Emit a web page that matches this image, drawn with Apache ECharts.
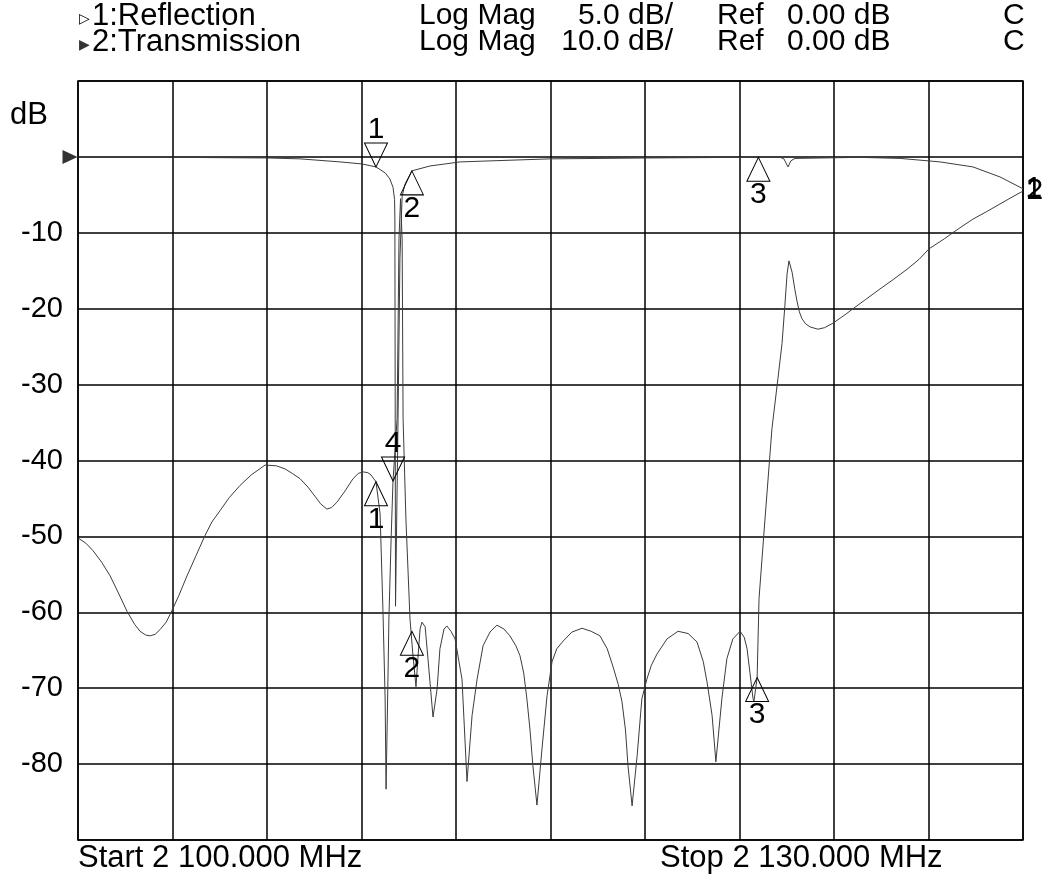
<!DOCTYPE html>
<html>
<head>
<meta charset="utf-8">
<script src="https://cdn.jsdelivr.net/npm/echarts@6/dist/echarts.min.js"></script>
<style>html,body{margin:0;padding:0;background:#fff}#c{width:1045px;height:882px}</style>
</head>
<body>
<div id="c"></div>
<script>
// Transmission trace (trace 2), dB, 10 dB/div
const transFreq = [100.00,100.25,100.48,100.75,101.02,101.30,101.56,101.80,101.97,102.15,102.29,102.45,102.60,102.80,102.98,103.20,103.46,103.75,104.03,104.25,104.51,104.80,105.14,105.50,105.94,106.30,106.57,106.80,107.05,107.30,107.52,107.70,107.90,108.05,108.22,108.48,108.73,108.90,109.05,109.20,109.30,109.46,109.59,109.68,109.75,109.78,109.84,109.87,109.94,110.00,110.13,110.19,110.24,110.29,110.32,110.41,110.54,110.63,110.73,110.79,110.86,110.92,111.02,111.11,111.27,111.40,111.49,111.62,111.71,111.84,111.97,112.19,112.35,112.51,112.67,112.86,113.08,113.30,113.52,113.71,113.90,114.03,114.15,114.25,114.35,114.44,114.57,114.73,114.89,115.05,115.20,115.40,115.68,116.00,116.29,116.57,116.80,116.98,117.15,117.27,117.38,117.46,117.59,117.75,117.90,118.06,118.20,118.38,118.70,119.05,119.37,119.65,119.85,119.97,120.13,120.25,120.44,120.60,120.79,121.02,121.15,121.24,121.33,121.43,121.46,121.56,121.62,121.81,122.03,122.22,122.35,122.44,122.51,122.57,122.67,122.75,122.83,122.90,122.98,123.10,123.24,123.49,123.70,123.97,124.35,124.67,125.00,125.46,125.90,126.32,126.70,127.02,127.50,127.94,128.41,128.85,129.27,129.65,130.00];
const transDb = [-50.2,-50.9,-51.9,-53.4,-55.2,-57.6,-59.9,-61.6,-62.5,-63.0,-63.1,-62.9,-62.3,-61.3,-59.8,-57.8,-55.2,-52.5,-49.9,-48.1,-46.6,-44.9,-43.3,-41.9,-40.6,-40.7,-41.1,-41.7,-42.4,-43.5,-44.7,-45.7,-46.4,-46.2,-45.5,-44.0,-42.4,-41.7,-41.5,-41.6,-41.9,-42.8,-47.0,-59.6,-71.4,-83.3,-68.8,-60.9,-50.3,-42.7,-34.5,-10.8,-5.5,-10.8,-34.5,-47.7,-60.9,-65.5,-69.8,-66.1,-62.2,-61.3,-61.9,-66.1,-73.8,-70.1,-64.8,-62.2,-61.8,-62.5,-63.5,-68.8,-82.3,-73.6,-68.8,-64.4,-62.6,-61.7,-62.2,-63.1,-64.4,-65.7,-68.0,-71.4,-75.5,-80.2,-85.4,-78.0,-71.0,-66.5,-64.8,-63.8,-62.6,-62.1,-62.5,-63.1,-64.8,-67.1,-69.5,-71.8,-75.5,-80.2,-85.5,-78.9,-71.4,-68.8,-67.0,-65.5,-63.5,-62.5,-62.8,-63.9,-66.5,-69.2,-73.6,-79.7,-71.4,-66.1,-63.5,-62.5,-63.3,-64.8,-67.9,-71.4,-71.7,-68.6,-58.2,-47.7,-35.8,-29.2,-24.6,-19.6,-15.4,-13.7,-15.2,-17.3,-19.1,-20.4,-21.3,-22.0,-22.4,-22.7,-22.5,-21.9,-20.8,-19.8,-18.8,-17.4,-16.1,-14.8,-13.5,-12.1,-10.8,-9.5,-8.2,-7.2,-6.2,-5.3,-4.5];

// Reflection trace (trace 1), dB, 5 dB/div
const reflFreq = [100.00,103.00,106.00,107.05,108.32,109.00,109.46,109.75,109.90,110.00,110.05,110.06,110.08,110.16,110.22,110.29,110.38,110.60,111.17,112.13,114.98,118.16,121.02,122.29,122.41,122.54,122.63,122.76,124.83,126.10,127.37,128.41,129.27,130.00];
const reflDb = [0.00,-0.03,-0.07,-0.13,-0.33,-0.46,-0.66,-1.05,-1.45,-2.00,-2.80,-4.10,-29.6,-17.3,-6.70,-2.60,-1.80,-0.92,-0.60,-0.33,-0.13,-0.07,-0.03,-0.03,-0.13,-0.66,-0.26,-0.10,-0.03,-0.10,-0.33,-0.66,-1.32,-2.10];

// Markers
const reflMarkers = [ {n:'1', f:109.46, v:-0.66, dir:'down'}, {n:'2', f:110.60, v:-0.92, dir:'up'}, {n:'3', f:121.60, v:-0.03, dir:'up'} ];
const transMarkers = [ {n:'1', f:109.46, v:-42.8, dir:'up'}, {n:'4', f:110.00, v:-42.7, dir:'down'}, {n:'2', f:110.60, v:-62.5, dir:'up'}, {n:'3', f:121.56, v:-68.6, dir:'up'} ];
const yTickLabels = [-10,-20,-30,-40,-50,-60,-70,-80];

const FONT = '"Liberation Sans", Arial, sans-serif';
const TRACE = '#3c3c3c';

function mk(list) {
  return list.map(m => ({
    coord: [m.f, m.v],
    symbol: 'triangle',
    symbolSize: [23, 24],
    symbolRotate: m.dir === 'down' ? 180 : 0,
    symbolOffset: [0, m.dir === 'down' ? -12 : 12],
    itemStyle: { color: 'rgba(255,255,255,0)', borderColor: '#000', borderWidth: 1 },
    label: { show: true, formatter: m.n, position: m.dir === 'down' ? 'top' : 'bottom', distance: -2,
             fontSize: 30, fontFamily: FONT, color: '#000' }
  }));
}
function endLabel(txt, v, dx) {
  return { coord: [130, v], symbol: 'circle', symbolSize: 1, itemStyle: { color: 'rgba(0,0,0,0)' },
    label: { show: true, formatter: txt, position: 'right', distance: 0, offset: [dx, 0],
             fontSize: 30, fontFamily: FONT, color: '#000' } };
}

const chart = echarts.init(document.getElementById('c'));
chart.setOption({
  animation: false,
  backgroundColor: '#fff',
  grid: { left: 78, right: 22, top: 81, bottom: 42, show: true, borderColor: '#000', borderWidth: 1.5, backgroundColor: 'rgba(0,0,0,0)' },
  xAxis: { type: 'value', min: 100, max: 130, interval: 3,
    axisLine: { show: false }, axisTick: { show: false }, axisLabel: { show: false },
    splitLine: { show: true, lineStyle: { color: '#000', width: 1.5 } } },
  yAxis: [
    { type: 'value', min: -90, max: 10, interval: 10,
      axisLine: { show: false }, axisTick: { show: false },
      axisLabel: { show: true, fontSize: 29, fontFamily: FONT, color: '#000', margin: 15,
        formatter: v => yTickLabels.indexOf(v) >= 0 ? String(v) : '' },
      splitLine: { show: true, lineStyle: { color: '#000', width: 1.5 } } },
    { type: 'value', min: -45, max: 5, interval: 5, show: false, splitLine: { show: false } }
  ],
  series: [
    { name: 'Reflection', type: 'line', yAxisIndex: 1, symbol: 'none', silent: true,
      data: reflFreq.map((f, i) => [f, reflDb[i]]),
      lineStyle: { color: TRACE, width: 1 },
      markPoint: { silent: true, data: mk(reflMarkers).concat([ endLabel('1', reflDb[reflDb.length-1], 2) ]) } },
    { name: 'Transmission', type: 'line', yAxisIndex: 0, symbol: 'none', silent: true,
      data: transFreq.map((f, i) => [f, transDb[i]]),
      lineStyle: { color: TRACE, width: 1 },
      markPoint: { silent: true, data: mk(transMarkers).concat([
        endLabel('2', transDb[transDb.length-1], 3),
        { coord: [100, 0], symbol: 'triangle', symbolSize: [14, 15], symbolRotate: -90, symbolOffset: [-8, 0],
          itemStyle: { color: '#333' }, label: { show: false } }
      ]) } }
  ],
  graphic: [
    { type: 'text', left: 79, top: 12, style: { text: '▷', fontSize: 14, fontFamily: '"DejaVu Sans"', fill: '#000' } },
    { type: 'text', left: 92, top: 1, style: { text: '1:Reflection', fontSize: 31, fontFamily: FONT, fill: '#000' } },
    { type: 'text', left: 419, top: 1, style: { text: 'Log Mag', fontSize: 30, fontFamily: FONT, fill: '#000' } },
    { type: 'text', right: 372, top: 1, style: { text: '5.0 dB/', fontSize: 30, fontFamily: FONT, fill: '#000' } },
    { type: 'text', left: 717, top: 1, style: { text: 'Ref', fontSize: 30, fontFamily: FONT, fill: '#000' } },
    { type: 'text', left: 787, top: 1, style: { text: '0.00 dB', fontSize: 30, fontFamily: FONT, fill: '#000' } },
    { type: 'text', left: 1003, top: 1, style: { text: 'C', fontSize: 30, fontFamily: FONT, fill: '#000' } },
    { type: 'text', left: 79, top: 38, style: { text: '▶', fontSize: 14, fontFamily: '"DejaVu Sans"', fill: '#333' } },
    { type: 'text', left: 92, top: 27, style: { text: '2:Transmission', fontSize: 31, fontFamily: FONT, fill: '#000' } },
    { type: 'text', left: 419, top: 27, style: { text: 'Log Mag', fontSize: 30, fontFamily: FONT, fill: '#000' } },
    { type: 'text', right: 372, top: 27, style: { text: '10.0 dB/', fontSize: 30, fontFamily: FONT, fill: '#000' } },
    { type: 'text', left: 717, top: 27, style: { text: 'Ref', fontSize: 30, fontFamily: FONT, fill: '#000' } },
    { type: 'text', left: 787, top: 27, style: { text: '0.00 dB', fontSize: 30, fontFamily: FONT, fill: '#000' } },
    { type: 'text', left: 1003, top: 27, style: { text: 'C', fontSize: 30, fontFamily: FONT, fill: '#000' } },
    { type: 'text', left: 10, top: 100, style: { text: 'dB', fontSize: 31, fontFamily: FONT, fill: '#000' } },
    { type: 'text', left: 78, top: 843, style: { text: 'Start 2 100.000 MHz', fontSize: 31, fontFamily: FONT, fill: '#000' } },
    { type: 'text', left: 660, top: 843, style: { text: 'Stop 2 130.000 MHz', fontSize: 31, fontFamily: FONT, fill: '#000' } }
  ]
});
</script>
</body>
</html>
